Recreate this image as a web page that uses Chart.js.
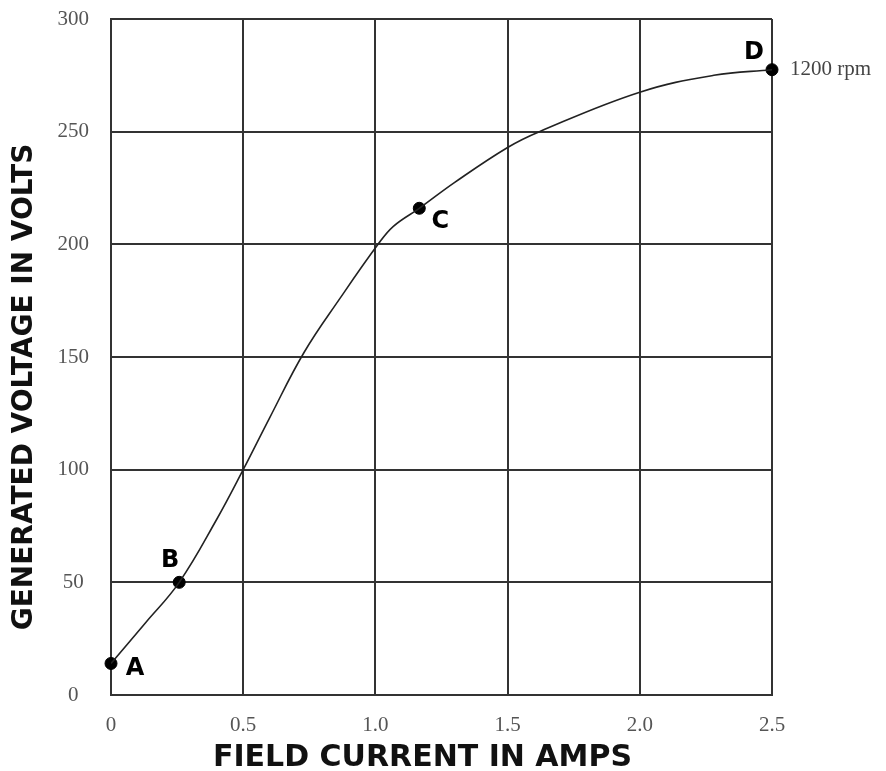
<!DOCTYPE html>
<html>
<head>
<meta charset="utf-8">
<script src="https://cdn.jsdelivr.net/npm/chart.js@4.4.0/dist/chart.umd.min.js"></script>
<style>
  html, body { margin: 0; padding: 0; background: #fff; }
  #wrap { width: 886px; height: 771px; }
</style>
</head>
<body>
<div id="wrap"><canvas id="chart"></canvas></div>
<script>
// magnetization curve
let curve_x = [0, 0.13, 0.258, 0.4, 0.5, 0.6, 0.73, 0.866, 1.01, 1.068, 1.166, 1.3, 1.5, 1.62, 2.0, 2.28, 2.5]
let curve_y = [14, 32, 50, 78, 100, 123, 152, 176, 200, 208, 216, 227.5, 243, 250, 267.5, 275, 277.5]

// marked points
let point_names = ['A', 'B', 'C', 'D']
let point_x = [0, 0.258, 1.166, 2.5]
let point_y = [14, 50, 216, 277.5]

let x_ticks = [0, 0.5, 1.0, 1.5, 2.0, 2.5]
let y_ticks = [0, 50, 100, 150, 200, 250, 300]
let x_title = 'FIELD CURRENT IN AMPS'
let y_title = 'GENERATED VOLTAGE IN VOLTS'
let speed_note = '1200 rpm'

// label offsets in px from each marked point
const label_offset = {
    A: [24, 5],
    B: [-9, -22],
    C: [21, 13],
    D: [-18, -17]
}

const titleFont = 'bold {s}px "DejaVu Sans", sans-serif';

const pointLabels = {
    id: 'pointLabels',
    afterDraw(chart) {
        const ctx = chart.ctx;
        const xs = chart.scales.x, ys = chart.scales.y;
        const area = chart.chartArea;
        ctx.save();
        ctx.fillStyle = '#000';
        ctx.font = titleFont.replace('{s}', 24);
        ctx.textAlign = 'center';
        ctx.textBaseline = 'middle';
        for (let i = 0; i < point_names.length; i++) {
            let px = xs.getPixelForValue(point_x[i]);
            let py = ys.getPixelForValue(point_y[i]);
            let off = label_offset[point_names[i]];
            ctx.fillText(point_names[i], px + off[0], py + off[1]);
        }

        // axis titles (sit a bit off-centre in the original)
        ctx.fillStyle = '#111';
        ctx.font = titleFont.replace('{s}', 30);
        ctx.fillText(x_title, (area.left + area.right) / 2 - 19, chart.height - 13);
        ctx.save();
        ctx.translate(25, (area.top + area.bottom) / 2 + 30);
        ctx.rotate(-Math.PI / 2);
        ctx.font = titleFont.replace('{s}', 28);
        ctx.fillText(y_title, 0, 0);
        ctx.restore();

        // speed note next to D
        let last = point_names.length - 1;
        ctx.font = '21px "Liberation Serif", serif';
        ctx.fillStyle = '#444';
        ctx.textAlign = 'left';
        ctx.fillText(speed_note, xs.getPixelForValue(point_x[last]) + 18, ys.getPixelForValue(point_y[last]));
        ctx.restore();
    }
};

new Chart(document.getElementById('chart'), {
    type: 'scatter',
    data: {
        datasets: [
            {
                data: curve_x.map((x, i) => ({x: x, y: curve_y[i]})),
                showLine: true,
                borderColor: '#222',
                borderWidth: 1.6,
                pointRadius: 0,
                tension: 0.4,
                fill: false
            },
            {
                data: point_x.map((x, i) => ({x: x, y: point_y[i]})),
                showLine: false,
                pointRadius: 6,
                backgroundColor: '#000',
                borderColor: '#000',
                clip: false
            }
        ]
    },
    options: {
        responsive: true,
        maintainAspectRatio: false,
        animation: false,
        layout: { padding: { top: 19, right: 114, left: 0, bottom: 0 } },
        plugins: {
            legend: { display: false },
            tooltip: { enabled: false }
        },
        scales: {
            x: {
                type: 'linear',
                min: 0,
                max: 2.5,
                afterBuildTicks: s => { s.ticks = x_ticks.map(v => ({value: v})); },
                afterFit: s => { s.height = 76; s.paddingLeft = 0; s.paddingRight = 0; },
                grid: { color: '#333', lineWidth: 2, drawTicks: false },
                border: { color: '#333', width: 2 },
                ticks: {
                    padding: 18,
                    color: '#555',
                    font: { family: '"Liberation Serif", serif', size: 21 },
                    callback: v => v === 0 ? '0' : v.toFixed(1)
                }
            },
            y: {
                type: 'linear',
                min: 0,
                max: 300,
                afterBuildTicks: s => { s.ticks = y_ticks.map(v => ({value: v})); },
                afterFit: s => { s.width = 111; s.paddingTop = 0; s.paddingBottom = 0; },
                grid: { color: '#333', lineWidth: 2, drawTicks: false },
                border: { color: '#333', width: 2 },
                ticks: {
                    padding: 22,
                    crossAlign: 'center',
                    color: '#555',
                    font: { family: '"Liberation Serif", serif', size: 21 },
                    callback: v => String(v)
                }
            }
        }
    },
    plugins: [pointLabels]
});
</script>
</body>
</html>
